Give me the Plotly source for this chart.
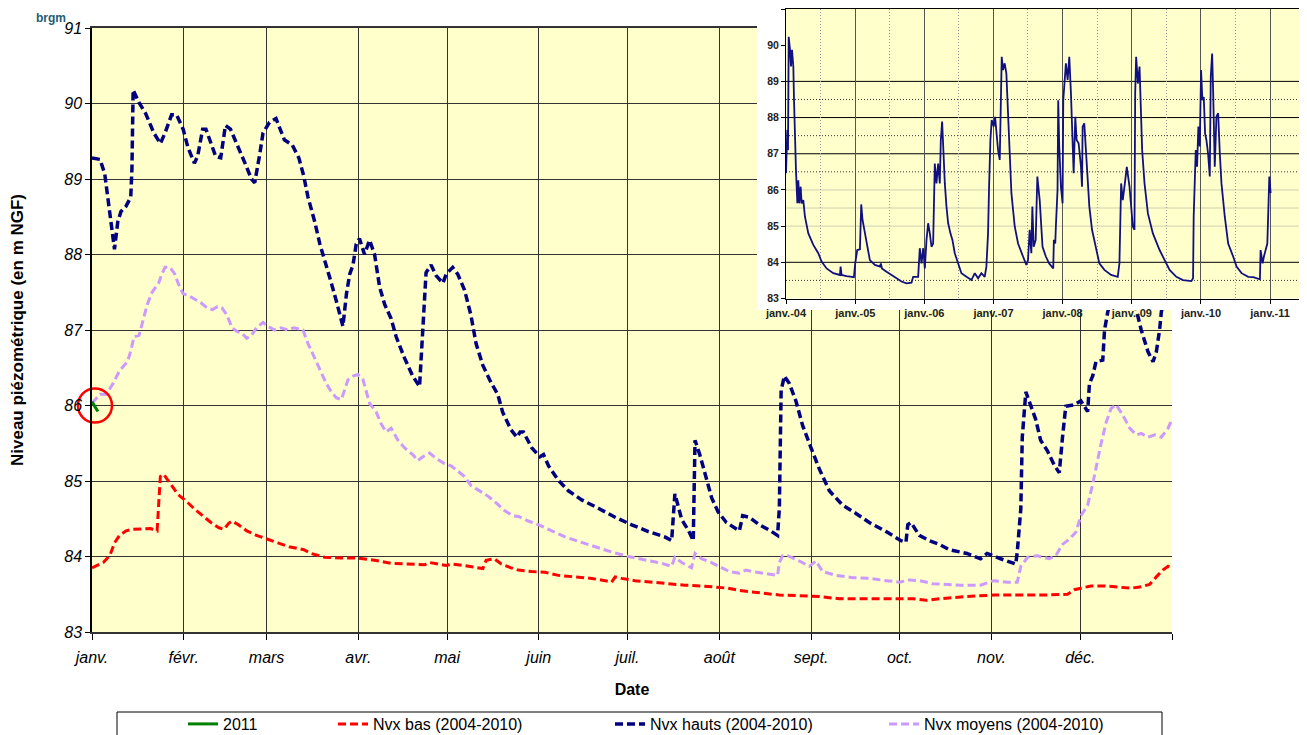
import pandas as pd
import plotly.graph_objects as go

W, H = 1307, 735
PAGE_OFFSET = 8  # default body margin of the page holding the figure

# ---------------- main chart data (day offset from 1 Jan 2011, level m NGF) ----------------
hauts_day = [0, 2.7, 4.3, 5.4, 6.5, 7.6, 8.7, 9.8, 11.5, 13.1, 13.5, 13.9, 15.9, 18.1, 20.9, 23.1, 24.7, 26.9, 28.6,
             30.8, 32.4, 34.6, 35.7, 37.4, 38.5, 40.2, 41.8, 43.5, 45.1, 46.8, 49.5, 51.7, 53.9, 55.0, 56.7, 57.8,
             60.0, 62.2, 65.0, 67.7, 69.9, 71.5, 73.0, 75.3, 77.0, 78.6, 80.9, 82.6, 84.8, 86.0, 87.1, 88.2, 89.3,
             90.4, 92.1, 93.8, 95.5, 97.2, 98.9, 101.1, 102.8, 105.6, 108.4, 110.7, 111.8, 112.9, 114.6, 116.3,
             118.6, 119.7, 121.9, 123.6, 125.9, 128.1, 129.8, 132.1, 134.9, 137.1, 138.8, 141.6, 143.6, 144.7,
             145.8, 147.0, 148.6, 151.4, 152.6, 154.3, 157.6, 161.0, 165.5, 171.1, 176.8, 182.4, 188.0, 193.6,
             195.9, 197.0, 198.1, 199.3, 201.5, 203.2, 203.8, 205.4, 207.1, 209.4, 211.6, 214.4, 218.8, 219.9,
             222.1, 225.5, 228.9, 231.7, 232.3, 232.9, 234.0, 235.7, 237.9, 240.2, 243.0, 245.8, 249.2, 253.7,
             258.2, 262.7, 268.4, 273.4, 275.1, 275.7, 276.8, 279.6, 283.0, 286.4, 289.8, 295.7, 300.3, 302.5,
             307.1, 312.2, 312.7, 313.9, 314.4, 315.6, 316.7, 318.9, 320.6, 322.9, 325.2, 326.9, 328.0, 329.1,
             332.0, 334.2, 336.5, 337.1, 338.2, 339.3, 341.6, 342.2, 343.3, 345.5, 348.5, 351.5, 354.6, 356.9,
             358.6, 359.7, 360.8, 361.4, 364.0]
hauts_val = [89.28, 89.26, 89.07, 88.76, 88.43, 88.07, 88.43, 88.57, 88.64, 88.76, 89.14, 90.18, 90.01, 89.87, 89.61,
             89.47, 89.61, 89.85, 89.85, 89.66, 89.42, 89.21, 89.30, 89.66, 89.66, 89.47, 89.30, 89.28, 89.71, 89.66,
             89.42, 89.21, 89.00, 88.95, 89.33, 89.61, 89.75, 89.80, 89.52, 89.45, 89.28, 89.05, 88.76, 88.43, 88.14,
             87.91, 87.62, 87.38, 87.05, 87.48, 87.74, 87.86, 88.14, 88.21, 88.00, 88.19, 88.00, 87.57, 87.34, 87.15,
             86.91, 86.63, 86.39, 86.25, 87.00, 87.76, 87.86, 87.72, 87.62, 87.74, 87.83, 87.74, 87.53, 87.19, 86.82,
             86.53, 86.30, 86.15, 85.91, 85.68, 85.58, 85.65, 85.65, 85.56, 85.44, 85.32, 85.35, 85.20, 85.01, 84.87,
             84.75, 84.64, 84.52, 84.42, 84.33, 84.26, 84.21, 84.83, 84.68, 84.49, 84.35, 84.21, 85.54, 85.35, 85.11,
             84.78, 84.59, 84.45, 84.34, 84.54, 84.52, 84.42, 84.35, 84.28, 84.64, 86.20, 86.39, 86.29, 86.06, 85.73,
             85.44, 85.16, 84.87, 84.68, 84.57, 84.45, 84.33, 84.21, 84.19, 84.42, 84.45, 84.28, 84.21, 84.16, 84.09,
             84.04, 83.97, 84.04, 83.97, 83.90, 84.06, 84.63, 85.58, 86.18, 86.06, 85.82, 85.54, 85.40, 85.21, 85.11,
             85.58, 85.99, 86.01, 86.06, 85.92, 86.29, 86.39, 86.58, 86.60, 87.00, 87.24, 87.60, 87.80, 87.50, 87.00,
             86.71, 86.58, 86.71, 87.00, 87.24, 87.70]

moyens_day = [0, 2.7, 4.9, 7.1, 9.3, 12.0, 13.1, 14.2, 15.9, 17.0, 18.7, 20.3, 22.5, 23.6, 24.7, 26.4, 28.0, 29.1,
              30.8, 32.4, 34.6, 36.8, 39.0, 40.7, 42.4, 44.0, 45.7, 47.3, 49.0, 50.6, 52.3, 53.9, 55.6, 57.8, 59.4,
              61.7, 63.9, 66.1, 68.3, 71.3, 73.0, 75.3, 77.0, 79.2, 80.9, 82.6, 84.3, 85.4, 86.5, 88.2, 89.9, 91.6,
              92.7, 93.8, 96.1, 97.8, 99.4, 101.1, 103.4, 105.6, 108.4, 110.1, 111.8, 114.1, 116.3, 119.1, 121.4,
              123.6, 125.9, 128.1, 130.9, 133.8, 136.6, 139.4, 142.2, 144.1, 147.5, 151.0, 155.4, 159.9, 164.4,
              170.0, 175.6, 181.3, 186.9, 192.5, 195.9, 197.0, 199.3, 202.6, 203.8, 206.0, 209.4, 212.8, 215.4,
              218.8, 221.0, 223.3, 226.7, 231.7, 232.3, 233.4, 235.1, 239.1, 242.4, 244.7, 246.9, 251.5, 257.1,
              262.7, 268.4, 272.9, 276.3, 279.6, 284.1, 289.8, 293.5, 300.3, 304.8, 309.3, 312.7, 313.9, 316.2,
              319.5, 323.5, 325.7, 328.0, 330.3, 332.5, 334.2, 336.5, 338.2, 339.9, 341.0, 342.7, 344.4, 346.1,
              348.4, 350.7, 352.9, 354.6, 356.9, 359.2, 361.4, 363.7, 365.0]
moyens_val = [86.03, 86.15, 86.15, 86.29, 86.46, 86.58, 86.72, 86.91, 86.93, 87.10, 87.34, 87.50, 87.62, 87.74, 87.83,
              87.83, 87.74, 87.62, 87.48, 87.46, 87.41, 87.36, 87.29, 87.27, 87.31, 87.29, 87.19, 87.03, 86.98, 86.96,
              86.89, 86.93, 87.03, 87.10, 87.05, 87.00, 87.03, 87.00, 87.03, 87.00, 86.82, 86.63, 86.48, 86.29, 86.18,
              86.10, 86.08, 86.20, 86.34, 86.39, 86.41, 86.34, 86.20, 86.03, 85.91, 85.75, 85.65, 85.70, 85.54, 85.44,
              85.35, 85.27, 85.32, 85.37, 85.30, 85.23, 85.20, 85.13, 85.06, 84.94, 84.87, 84.80, 84.71, 84.61, 84.54,
              84.53, 84.47, 84.42, 84.34, 84.26, 84.20, 84.13, 84.06, 84.00, 83.96, 83.91, 83.87, 83.99, 83.92, 83.85,
              84.04, 83.97, 83.92, 83.85, 83.80, 83.78, 83.82, 83.80, 83.78, 83.75, 83.92, 84.01, 84.01, 83.94, 83.87,
              83.94, 83.80, 83.75, 83.72, 83.71, 83.68, 83.66, 83.69, 83.68, 83.64, 83.63, 83.62, 83.62, 83.68, 83.66,
              83.66, 83.87, 83.99, 84.01, 83.97, 84.01, 84.16, 84.23, 84.32, 84.54, 84.68, 84.96, 85.30, 85.49, 85.77,
              85.96, 86.01, 85.87, 85.70, 85.61, 85.63, 85.58, 85.61, 85.58, 85.70, 85.82]

bas_day = [0, 3.8, 6.0, 7.6, 9.3, 11.5, 13.7, 17.0, 19.8, 22.0, 22.5, 23.1, 24.2, 26.4, 29.1, 31.9, 34.6, 37.4, 40.2,
           42.9, 44.6, 46.2, 47.3, 49.5, 52.3, 55.6, 58.9, 62.8, 66.6, 71.6, 74.1, 78.6, 84.3, 89.9, 95.5, 101.1,
           106.8, 112.4, 114.1, 116.9, 119.7, 121.4, 125.9, 132.1, 133.2, 136.0, 138.3, 141.6, 144.1, 148.6, 153.1,
           157.6, 163.3, 168.9, 173.4, 175.6, 176.8, 179.0, 183.5, 189.1, 194.8, 200.4, 206.0, 210.5, 215.0, 218.8,
           225.5, 232.3, 239.1, 245.8, 252.6, 259.3, 266.1, 272.9, 277.4, 281.9, 286.4, 295.7, 304.8, 313.9, 322.9,
           329.7, 332.0, 334.2, 337.6, 342.2, 346.7, 351.2, 354.6, 357.4, 359.7, 361.9, 363.7, 365.0]
bas_val = [83.85, 83.92, 84.01, 84.18, 84.28, 84.34, 84.36, 84.37, 84.37, 84.34, 84.63, 85.06, 85.09, 84.97, 84.82,
           84.73, 84.63, 84.54, 84.45, 84.38, 84.36, 84.44, 84.47, 84.42, 84.34, 84.28, 84.23, 84.18, 84.13, 84.09,
           84.04, 83.99, 83.98, 83.98, 83.95, 83.91, 83.90, 83.89, 83.92, 83.90, 83.88, 83.90, 83.88, 83.84, 83.95,
           83.97, 83.90, 83.85, 83.82, 83.80, 83.79, 83.75, 83.73, 83.71, 83.68, 83.66, 83.73, 83.71, 83.68, 83.66,
           83.64, 83.62, 83.61, 83.60, 83.58, 83.55, 83.52, 83.49, 83.48, 83.47, 83.44, 83.44, 83.43, 83.43, 83.44,
           83.42, 83.44, 83.47, 83.49, 83.49, 83.49, 83.50, 83.56, 83.58, 83.61, 83.61, 83.59, 83.58, 83.60, 83.63,
           83.73, 83.82, 83.87, 83.85]

y2011_day = [0, 1, 2]
y2011_val = [86.05, 85.98, 85.92]

highlight_day = [1]
highlight_val = [86.0]

month_ticks = ["2011-01-01", "2011-02-01", "2011-03-01", "2011-04-01", "2011-05-01", "2011-06-01", "2011-07-01",
               "2011-08-01", "2011-09-01", "2011-10-01", "2011-11-01", "2011-12-01", "2012-01-01"]
month_labels = ["janv.", "févr.", "mars", "avr.", "mai", "juin", "juil.", "août", "sept.", "oct.", "nov.", "déc.", ""]

# ---------------- inset data (decimal year, level m NGF) ----------------
inset_t = [2004.000, 2004.010, 2004.019, 2004.029, 2004.039, 2004.058, 2004.072, 2004.087, 2004.106, 2004.116,
           2004.130, 2004.144, 2004.164, 2004.178, 2004.193, 2004.212, 2004.226, 2004.250, 2004.274, 2004.323,
           2004.395, 2004.467, 2004.515, 2004.587, 2004.684, 2004.780, 2004.790, 2004.804, 2004.876, 2004.982,
           2005.001, 2005.030, 2005.069, 2005.078, 2005.088, 2005.107, 2005.141, 2005.175, 2005.213, 2005.286,
           2005.358, 2005.372, 2005.387, 2005.454, 2005.526, 2005.598, 2005.671, 2005.743, 2005.815, 2005.839,
           2005.911, 2005.935, 2005.960, 2005.984, 2006.008, 2006.032, 2006.056, 2006.080, 2006.104, 2006.128,
           2006.138, 2006.152, 2006.176, 2006.200, 2006.224, 2006.239, 2006.258, 2006.273, 2006.297, 2006.321,
           2006.345, 2006.378, 2006.407, 2006.441, 2006.489, 2006.537, 2006.610, 2006.682, 2006.730, 2006.778,
           2006.826, 2006.874, 2006.898, 2006.922, 2006.937, 2006.956, 2006.975, 2007.004, 2007.024, 2007.043,
           2007.067, 2007.091, 2007.101, 2007.120, 2007.139, 2007.163, 2007.187, 2007.202, 2007.226, 2007.260,
           2007.308, 2007.356, 2007.428, 2007.476, 2007.500, 2007.524, 2007.548, 2007.563, 2007.582, 2007.611,
           2007.635, 2007.669, 2007.710, 2007.758, 2007.806, 2007.865, 2007.874, 2007.894, 2007.903, 2007.927,
           2007.937, 2007.952, 2007.976, 2008.000, 2008.010, 2008.029, 2008.048, 2008.073, 2008.097, 2008.121,
           2008.145, 2008.160, 2008.184, 2008.203, 2008.232, 2008.266, 2008.281, 2008.290, 2008.314, 2008.339,
           2008.363, 2008.387, 2008.426, 2008.474, 2008.532, 2008.605, 2008.701, 2008.798, 2008.822, 2008.847,
           2008.871, 2008.895, 2008.929, 2008.968, 2009.016, 2009.040, 2009.050, 2009.064, 2009.089, 2009.113,
           2009.137, 2009.151, 2009.185, 2009.234, 2009.306, 2009.403, 2009.476, 2009.548, 2009.645, 2009.742,
           2009.863, 2009.887, 2009.896, 2009.911, 2009.926, 2009.945, 2009.964, 2009.984, 2010.003, 2010.022,
           2010.042, 2010.061, 2010.080, 2010.104, 2010.129, 2010.143, 2010.163, 2010.177, 2010.201, 2010.225,
           2010.250, 2010.274, 2010.298, 2010.346, 2010.395, 2010.467, 2010.516, 2010.588, 2010.685, 2010.758,
           2010.854, 2010.864, 2010.893, 2010.912, 2010.942, 2010.961, 2010.980, 2010.990, 2011.009]
inset_val = [86.46, 87.20, 87.66, 87.10, 90.23, 89.87, 89.41, 89.87, 89.41, 88.48, 87.38, 86.55, 85.63, 86.27, 85.63,
             86.09, 85.63, 85.72, 85.26, 84.80, 84.48, 84.25, 84.02, 83.83, 83.70, 83.65, 83.88, 83.65, 83.62, 83.59,
             83.97, 84.34, 84.36, 85.54, 85.60, 85.17, 84.80, 84.43, 84.06, 83.93, 83.88, 83.97, 83.83, 83.74, 83.65,
             83.56, 83.47, 83.42, 83.44, 83.60, 83.60, 84.39, 83.97, 84.39, 83.83, 84.62, 85.08, 84.80, 84.43, 84.52,
             86.09, 86.73, 86.18, 86.73, 86.18, 87.38, 87.89, 87.10, 86.18, 85.54, 85.08, 84.80, 84.62, 84.25, 83.97,
             83.70, 83.60, 83.51, 83.70, 83.56, 83.70, 83.60, 83.88, 84.80, 86.09, 87.38, 87.93, 87.75, 88.02, 87.56,
             87.10, 86.83, 88.21, 89.68, 89.31, 89.50, 89.22, 88.58, 87.10, 85.91, 84.99, 84.52, 84.16, 83.93, 84.06,
             84.90, 84.25, 85.54, 84.43, 84.62, 86.37, 85.72, 84.43, 84.16, 83.97, 83.83, 84.62, 84.52, 84.99, 86.00,
             88.48, 87.20, 86.09, 85.63, 88.48, 88.94, 89.50, 89.04, 89.68, 88.67, 87.10, 86.46, 88.02, 87.38, 87.29,
             86.64, 86.09, 87.75, 87.84, 87.10, 86.18, 85.54, 84.90, 84.43, 83.97, 83.79, 83.65, 83.60, 83.97, 86.18,
             85.72, 86.09, 86.64, 86.09, 84.99, 84.90, 88.67, 89.68, 88.94, 89.41, 87.56, 87.10, 86.18, 85.35, 84.80,
             84.34, 84.06, 83.79, 83.60, 83.51, 83.48, 83.56, 85.26, 86.09, 87.10, 86.64, 87.75, 87.20, 89.31, 88.48,
             88.57, 87.56, 87.38, 87.01, 86.37, 89.13, 89.77, 88.76, 86.64, 88.02, 88.12, 87.01, 86.18, 85.26, 84.52,
             84.16, 83.88, 83.70, 83.60, 83.59, 83.53, 84.34, 83.97, 84.16, 84.43, 84.52, 85.72, 86.37, 85.91]

inset_year_ticks = ["2004-01-01", "2005-01-01", "2006-01-01", "2007-01-01", "2008-01-01", "2009-01-01",
                    "2010-01-01", "2011-01-01"]
inset_year_labels = ["janv.-04", "janv.-05", "janv.-06", "janv.-07", "janv.-08", "janv.-09", "janv.-10", "janv.-11"]
inset_mid_ticks = ["2004-07-01", "2005-07-01", "2006-07-01", "2007-07-01", "2008-07-01", "2009-07-01",
                   "2010-07-01"]
inset_range = ["2004-01-01", "2011-06-24"]

# ---------------- conversions ----------------
base = pd.Timestamp("2011-01-01")


def to_dates(days):
    return [base + pd.to_timedelta(d, unit="D") for d in days]


def year_to_dates(ts):
    return [pd.Timestamp("2004-01-01") + pd.to_timedelta((t - 2004) * 365.25, unit="D") for t in ts]


def px_x(p):
    return (p - PAGE_OFFSET) / W


def px_y(p):
    return 1 - (p - PAGE_OFFSET) / H


FONT = "Liberation Sans, Arial, sans-serif"
NAVY = "#000080"
RED = "#FF0000"
LILAC = "#CC99FF"
GREEN = "#008000"
YELLOW = "#FFFFCC"
DASH = "8px,4px"

fig = go.Figure()

fig.add_trace(go.Scatter(x=to_dates(bas_day), y=bas_val, mode="lines", name="Nvx bas (2004-2010)",
                         line=dict(color=RED, width=3, dash=DASH), legend="legend2"))
fig.add_trace(go.Scatter(x=to_dates(hauts_day), y=hauts_val, mode="lines", name="Nvx hauts (2004-2010)",
                         line=dict(color=NAVY, width=3.5, dash=DASH), legend="legend3"))
fig.add_trace(go.Scatter(x=to_dates(moyens_day), y=moyens_val, mode="lines", name="Nvx moyens (2004-2010)",
                         line=dict(color=LILAC, width=3, dash=DASH), legend="legend4"))
fig.add_trace(go.Scatter(x=to_dates(y2011_day), y=y2011_val, mode="lines", name="2011",
                         line=dict(color=GREEN, width=3), legend="legend"))
fig.add_trace(go.Scatter(x=to_dates(highlight_day), y=highlight_val, mode="markers", showlegend=False,
                         cliponaxis=False,
                         marker=dict(symbol="circle-open", size=34, color=RED, line=dict(width=2.5))))

# cover subplot (white background behind the inset)
fig.add_trace(go.Scatter(x=[], y=[], xaxis="x2", yaxis="y2", showlegend=False))
# inset series
fig.add_trace(go.Scatter(x=year_to_dates(inset_t), y=inset_val, mode="lines", xaxis="x3", yaxis="y3",
                         showlegend=False, line=dict(color="#101080", width=1.8)))

main_x_dom = [px_x(92), px_x(1172)]
main_y_dom = [px_y(632), px_y(28)]

fig.update_layout(
    template="none",
    width=W, height=H, margin=dict(l=0, r=0, t=0, b=0, autoexpand=False),
    paper_bgcolor="white", plot_bgcolor=YELLOW,
    font=dict(family=FONT, color="black"),
    xaxis=dict(domain=main_x_dom, anchor="y", type="date", range=["2011-01-01", "2012-01-01"],
               automargin=False,
               tickmode="array", tickvals=month_ticks, ticktext=month_labels,
               tickfont=dict(family=FONT, size=16, style="italic", color="black"),
               ticks="outside", ticklen=6, tickcolor="black", ticklabelstandoff=4,
               showgrid=True, gridcolor="#333333", gridwidth=1,
               showline=True, linecolor="#333333", linewidth=2, mirror=True, zeroline=False,
               title=dict(text="Date", font=dict(family=FONT, size=16, weight="bold"), standoff=19)),
    yaxis=dict(domain=main_y_dom, anchor="x", range=[83, 91], tickmode="array", automargin=False,
               tickvals=[83, 84, 85, 86, 87, 88, 89, 90, 91],
               tickfont=dict(family=FONT, size=16, style="italic", color="black"),
               ticks="outside", ticklen=5, tickcolor="black",
               showgrid=True, gridcolor="#333333", gridwidth=1,
               showline=True, linecolor="black", linewidth=1.5, zeroline=False,
               title=dict(text="Niveau piézométrique (en m NGF)",
                          font=dict(family=FONT, size=17, weight="bold"), standoff=44)),
    xaxis2=dict(domain=[px_x(757), 1.0], anchor="y2", range=[0, 1], visible=False, fixedrange=True,
                automargin=False),
    yaxis2=dict(domain=[px_y(310), 1.0], anchor="x2", range=[0, 1], visible=False,
                fixedrange=True, automargin=False),
    xaxis3=dict(domain=[px_x(786), px_x(1303)], anchor="y3", type="date", range=inset_range, automargin=False,
                tickmode="array", tickvals=inset_year_ticks, ticktext=inset_year_labels,
                tickfont=dict(family=FONT, size=11, weight="bold", color="#222222"),
                ticks="outside", ticklen=4, tickcolor="black",
                showgrid=True, gridcolor="#555555", gridwidth=1,
                minor=dict(tickmode="array", tickvals=inset_mid_ticks, showgrid=True, gridcolor="#999999",
                           griddash="1px,2px", ticks=""),
                showline=True, linecolor="black", linewidth=1, mirror=True, zeroline=False),
    yaxis3=dict(domain=[px_y(298.5), px_y(9)], anchor="x3", range=[83, 91], tickmode="array", automargin=False,
                tickvals=[83, 84, 85, 86, 87, 88, 89, 90, 91],
                tickfont=dict(family=FONT, size=10.5, weight="bold", color="#222222"),
                ticks="outside", ticklen=4, tickcolor="black", showgrid=False,
                showline=True, linecolor="black", linewidth=1, mirror=True, zeroline=False),
)

# legends: one per entry, positioned along the bottom row
legend_text_x = {"legend": 223, "legend2": 373, "legend3": 650, "legend4": 924}
for key, tx in legend_text_x.items():
    fig.update_layout(**{key: dict(x=px_x(tx - 40), y=px_y(724), xanchor="left", yanchor="middle",
                                   orientation="h", bgcolor="rgba(0,0,0,0)", borderwidth=0,
                                   font=dict(family=FONT, size=16, color="black"))})

shapes = []
# white cover for the inset area
shapes.append(dict(type="rect", xref="x2", yref="y2", x0=0, x1=1, y0=0, y1=1,
                   fillcolor="white", line=dict(width=0), layer="below"))
# inset horizontal grid
for v, col, dash in [(85, "#d0d0b0", "solid"), (85.5, "#d0d0b0", "solid"), (86, "#d0d0b0", "solid"),
                     (83.5, "#333333", "1px,2px"), (86.5, "#333333", "1px,2px"), (87.5, "#333333", "1px,2px"),
                     (88.5, "#333333", "1px,2px"),
                     (84, "black", "solid"), (87, "black", "solid"), (88, "black", "solid"), (89, "black", "solid")]:
    shapes.append(dict(type="line", xref="x3", yref="y3", x0=inset_range[0], x1=inset_range[1], y0=v, y1=v,
                       line=dict(color=col, width=1, dash=dash), layer="below"))
# legend frame
shapes.append(dict(type="rect", xref="paper", yref="paper", x0=px_x(117), x1=px_x(1162), y0=px_y(750),
                   y1=px_y(712), line=dict(color="black", width=1), fillcolor="rgba(0,0,0,0)", layer="above"))
fig.update_layout(shapes=shapes)

# logo text at the very top-left (kept fully inside the figure)
fig.add_annotation(text="<b>brgm</b>", xref="paper", yref="paper", x=px_x(34), y=px_y(9), xanchor="left",
                   yanchor="top", showarrow=False, font=dict(family=FONT, size=12, color="#1F5C73"))

fig.write_html("out.html")
